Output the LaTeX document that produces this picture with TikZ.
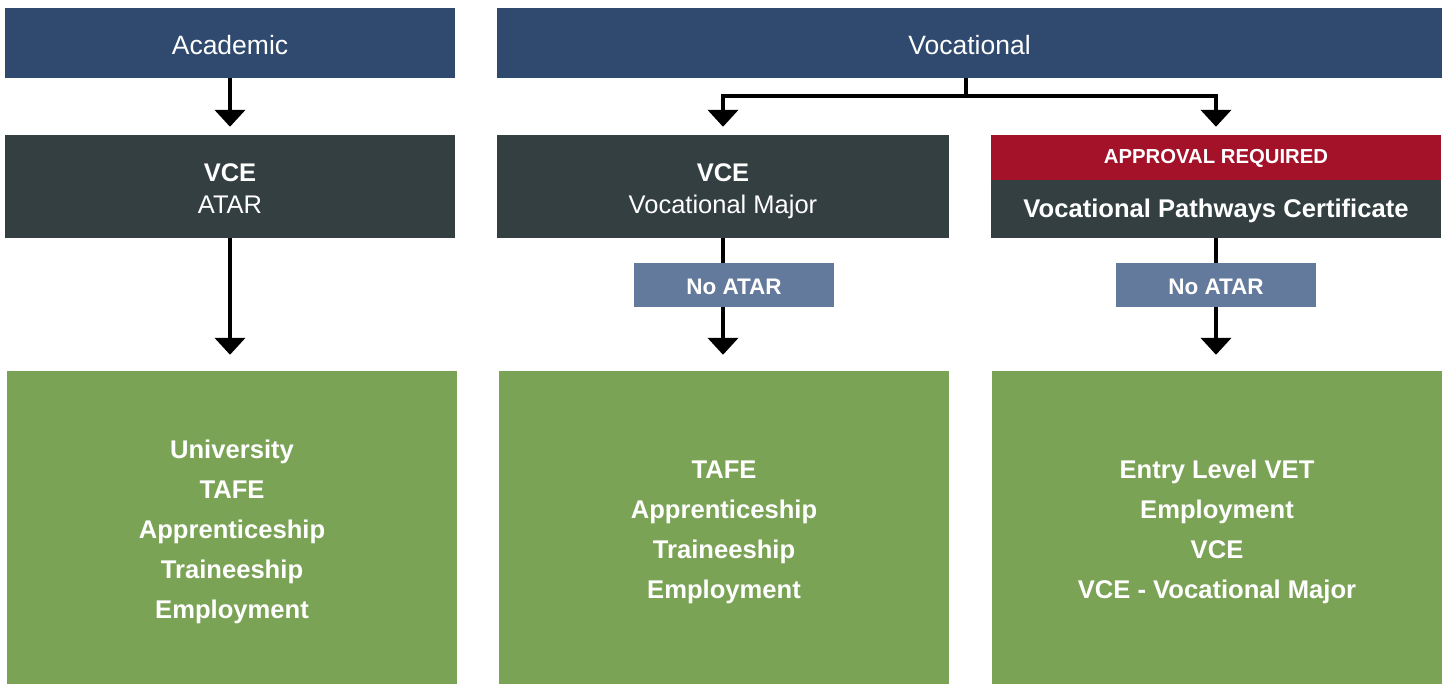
\documentclass[tikz,border=0pt]{standalone}
\usepackage{fontspec}
\setmainfont{Liberation Sans}
\usetikzlibrary{arrows.meta}
\definecolor{navy}{HTML}{2F4A6E}
\definecolor{slate}{HTML}{333F41}
\definecolor{redbar}{HTML}{A31228}
\definecolor{tagblue}{HTML}{647A9C}
\definecolor{leaf}{HTML}{7BA356}
\begin{document}
\begin{tikzpicture}[x=1pt,y=-1pt,
  box/.style={rectangle, inner sep=0pt, text=white, align=center},
  head/.style={box, fill=navy, minimum height=70pt},
  headtxt/.style={box, font=\fontsize{26.5}{30}\selectfont},
  quals/.style={box, fill=slate},
  qualtxt/.style={box, font=\fontsize{25.5}{32}\selectfont},
  tag/.style={box, fill=tagblue, minimum width=200pt, minimum height=44pt},
  tagtxt/.style={box, font=\bfseries\fontsize{22.5}{24}\selectfont},
  dest/.style={box, fill=leaf, minimum height=313pt, minimum width=450pt},
  desttxt/.style={box, font=\bfseries\fontsize{25.6}{40}\selectfont},
  arr/.style={line width=4.5pt, -{Triangle[width=30pt,length=17pt]}},
  ln/.style={line width=4.5pt}]
\useasboundingbox (0,0) rectangle (1447,686);
\fill[white] (0,0) rectangle (1447,686);
% headers
\node[head, minimum width=450pt] (acad) at (230,43) {};
\node[head, minimum width=945pt] (voc) at (969.5,43) {};
\node[headtxt] (acadT) at (230,45) {Academic};
\node[headtxt] (vocT) at (969.5,45) {Vocational};
% qualifications
\node[quals, minimum width=450pt, minimum height=103pt] (atar) at (230,186.5) {};
\node[quals, minimum width=452pt, minimum height=103pt] (vm) at (723,186.5) {};
\node[qualtxt] (atarT) at (230,188.5) {\textbf{VCE}\\ATAR};
\node[qualtxt] (vmT) at (723,191) {\textbf{VCE}\\Vocational Major};
\node[box, fill=redbar, minimum width=450pt, minimum height=45pt] (appr) at (1216,157.5) {};
\node[box, font=\bfseries\fontsize{20.3}{22}\selectfont] (apprT) at (1216,158.5) {APPROVAL REQUIRED};
\node[quals, minimum width=450pt, minimum height=58pt] (vpc) at (1216,209) {};
\node[box, font=\bfseries\fontsize{25.6}{28}\selectfont] (vpcT) at (1216,210.5) {Vocational Pathways Certificate};
% tags
\node[tag] (na1) at (734,285) {};
\node[tag] (na2) at (1216,285) {};
\node[tagtxt] (na1T) at (734,286.5) {No ATAR};
\node[tagtxt] (na2T) at (1216,286.5) {No ATAR};
% destinations
\node[dest] (g1) at (232,527.5) {};
\node[dest] (g2) at (724,527.5) {};
\node[dest] (g3) at (1217,527.5) {};
\node[desttxt] (g1T) at (232,532) {University\\TAFE\\Apprenticeship\\Traineeship\\Employment};
\node[desttxt] (g2T) at (724,532) {TAFE\\Apprenticeship\\Traineeship\\Employment};
\node[desttxt] (g3T) at (1217,532) {Entry Level VET\\Employment\\VCE\\VCE - Vocational Major};
% connectors
\coordinate (split) at (966,96);
\coordinate (sl) at (723,96);
\coordinate (sr) at (1216,96);
\draw[arr, shorten >=8pt] (acad.south) -- (atar.north);
\draw[arr, shorten >=16pt] (atar.south) -- (atar.south |- g1.north);
\draw[ln] (voc.south -| split) -- (split);
\draw[ln, line cap=rect] (sl) -- (sr);
\draw[arr, shorten >=8pt] (sl) -- (sl |- vm.north);
\draw[arr, shorten >=8pt] (sr) -- (sr |- appr.north);
\draw[ln] (vm.south) -- (vm.south |- na1.north);
\draw[arr, shorten >=16pt] (vm.south |- na1.south) -- (vm.south |- g2.north);
\draw[ln] (vpc.south) -- (na2.north);
\draw[arr, shorten >=16pt] (na2.south) -- (na2.south |- g3.north);
\end{tikzpicture}
\end{document}
